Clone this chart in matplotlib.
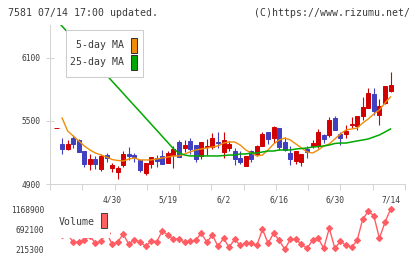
import matplotlib
matplotlib.use('Agg')
import matplotlib.pyplot as plt
from matplotlib.patches import Rectangle
import numpy as np

# daily prices (61 trading days, last one = 7/14)
opens = [5430, 5281, 5233, 5338, 5319, 5214, 5090, 5138, 5043, 5176,
         5052, 5014, 5081, 5186, 5176, 5129, 5005, 5090, 5148, 5167,
         5100, 5176, 5300, 5243, 5310, 5271, 5167, 5252, 5252, 5300,
         5205, 5243, 5214, 5148, 5071, 5214, 5186, 5262, 5395, 5338,
         5433, 5300, 5195, 5119, 5110, 5233, 5262, 5262, 5367, 5367,
         5529, 5376, 5376, 5462, 5452, 5548, 5624, 5757, 5557, 5671, 5786]
highs = [5430, 5338, 5319, 5367, 5329, 5214, 5186, 5167, 5186, 5195,
         5100, 5071, 5214, 5252, 5195, 5129, 5100, 5157, 5176, 5224,
         5214, 5262, 5319, 5319, 5338, 5271, 5300, 5329, 5386, 5395,
         5395, 5310, 5243, 5214, 5167, 5224, 5271, 5395, 5395, 5452,
         5433, 5348, 5262, 5214, 5186, 5262, 5319, 5424, 5376, 5538,
         5548, 5395, 5462, 5538, 5548, 5729, 5814, 5814, 5710, 5833, 5967]
lows = [5430, 5186, 5224, 5243, 5205, 5062, 5033, 5043, 5024, 5110,
        5014, 4948, 5062, 5129, 5110, 5014, 4986, 5052, 5062, 5090,
        5100, 5052, 5157, 5205, 5186, 5110, 5138, 5176, 5233, 5243,
        5148, 5214, 5081, 5090, 5071, 5110, 5167, 5262, 5281, 5290,
        5224, 5214, 5081, 5090, 5071, 5148, 5243, 5243, 5290, 5348,
        5414, 5271, 5338, 5433, 5414, 5510, 5624, 5557, 5462, 5662, 5776]
closes = [5430, 5233, 5281, 5281, 5205, 5090, 5138, 5090, 5167, 5148,
          5081, 5052, 5186, 5167, 5157, 5033, 5100, 5157, 5119, 5090,
          5195, 5233, 5157, 5271, 5233, 5138, 5300, 5262, 5338, 5290,
          5319, 5281, 5138, 5110, 5167, 5138, 5262, 5376, 5329, 5443,
          5252, 5224, 5138, 5214, 5186, 5205, 5290, 5395, 5329, 5510,
          5414, 5338, 5405, 5471, 5548, 5633, 5767, 5595, 5643, 5833, 5843]

ma5 = [None, 5529, 5405, 5357, 5310, 5262, 5224, 5195, 5176, 5157,
       5133, 5124, 5119, 5138, 5148, 5129, 5129, 5129, 5138, 5148,
       5157, 5167, 5167, 5186, 5205, 5224, 5233, 5243, 5252, 5262,
       5290, 5300, 5300, 5271, 5224, 5195, 5167, 5176, 5224, 5281,
       5319, 5338, 5319, 5281, 5243, 5205, 5195, 5224, 5262, 5281,
       5329, 5376, 5414, 5424, 5433, 5481, 5519, 5567, 5605, 5671, 5729]
ma25 = [6462, 6403, 6345, 6287, 6228, 6170, 6111, 6053, 5995, 5936,
        5878, 5820, 5762, 5703, 5645, 5587, 5529, 5470, 5412, 5353,
        5295, 5236, 5195, 5176, 5167, 5167, 5167, 5167, 5167, 5167,
        5171, 5176, 5176, 5186, 5186, 5195, 5195, 5205, 5214, 5214,
        5224, 5224, 5224, 5233, 5238, 5243, 5252, 5257, 5262, 5271,
        5286, 5290, 5290, 5300, 5310, 5319, 5329, 5348, 5367, 5395, 5424]

volume = [620000, 560000, 575000, 382000, 382000, 444000, 532000, 358000, 413000, 604000,
          334500, 396500, 573000, 334500, 444000, 396500, 287000, 413000, 396500, 651600,
          556200, 460900, 460900, 382000, 413000, 429900, 603900, 382000, 556200, 287000,
          477500, 263000, 453700, 310700, 358300, 358300, 310700, 692100, 358300, 596700,
          429900, 215300, 453700, 453700, 334500, 239100, 429900, 477500, 239100, 715900,
          239100, 406000, 310700, 263000, 429900, 930500, 1121200, 1016300, 477500, 859000, 1168900]

date_pos = [10, 20, 30, 40, 50, 60]
date_labels = ['4/30', '5/19', '6/2', '6/16', '6/30', '7/14']
price_ticks = [4900, 5500, 6100]

RED = '#d20000'
BLUE = '#4040c0'
ORANGE = '#f08c0a'
GREEN = '#00a800'
VCOL = '#ff5c64'
GRAY = '#d4d4d4'
TXT = '#3a3a3a'
MONO = 'DejaVu Sans Mono'

W, H = 420, 259
fig = plt.figure(figsize=(4.2, 2.59), dpi=100)


def box(l, t, r, b):
    return [l / W, 1 - b / H, (r - l) / W, (b - t) / H]


ax = fig.add_axes(box(50, 25, 405, 184))
axv = fig.add_axes(box(50, 209.3, 405, 249.3))

x = np.arange(len(closes))
o = np.array(opens, float)
c = np.array(closes, float)
cols = np.where(c >= o, RED, BLUE)

ax.vlines(x, lows, highs, colors=cols, lw=0.8)
ax.bar(x, np.abs(c - o), 0.72, np.minimum(o, c), color=cols, edgecolor=cols, lw=0.7)
ax.plot(x, np.array(ma5, float), color=ORANGE, lw=1.0)
ax.plot(x, np.array(ma25, float), color=GREEN, lw=1.1)

xlo, xhi = -1.168, 62.6
ax.set_xlim(xlo, xhi)
ax.set_ylim(4900, 6414)
ax.set_xticks(np.linspace(xlo, xhi, 12), minor=True)
ax.set_xticks(date_pos, date_labels)
ax.set_yticks(price_ticks)
ax.tick_params(axis='x', which='minor', length=4.3, width=0.75, color=GRAY, direction='out')
ax.tick_params(axis='x', which='major', length=0, pad=8, labelsize=5.7, labelcolor=TXT)
ax.tick_params(axis='y', direction='inout', length=5.8, width=0.75, color=GRAY, pad=4,
               labelsize=5.7, labelcolor=TXT)
for lab in ax.get_xticklabels() + ax.get_yticklabels():
    lab.set_family(MONO)
for s in ['top', 'right']:
    ax.spines[s].set_visible(False)
for s in ['left', 'bottom']:
    ax.spines[s].set_color(GRAY)
    ax.spines[s].set_linewidth(0.75)

# volume panel
axv.plot(x, volume, color=VCOL, lw=1.0, marker='D', ms=3.1, mew=0.8, clip_on=False)
axv.set_xlim(xlo, xhi)
vmin, vmax = min(volume), max(volume)
axv.set_ylim(vmin, vmax)
axv.set_yticks([vmin, (vmin + vmax) / 2, vmax])
axv.set_yticklabels(['%d' % v for v in [vmin, (vmin + vmax) / 2, vmax]])
axv.set_xticks([])
axv.tick_params(axis='y', length=0, pad=4.3, labelsize=5.7, labelcolor=TXT)
for lab in axv.get_yticklabels():
    lab.set_family(MONO)
for s in axv.spines.values():
    s.set_visible(False)


def rect(l, t, r, b, **kw):
    fig.add_artist(Rectangle((l / W, 1 - b / H), (r - l) / W, (b - t) / H,
                             transform=fig.transFigure, **kw))


# price legend
rect(65.7, 30, 143, 77, facecolor='white', edgecolor='#cccccc', lw=0.75, zorder=5)
fig.text(124.5 / W, 1 - 45.5 / H, '5-day MA', ha='right', va='center', fontsize=7.1,
         family=MONO, color=TXT, zorder=6)
fig.text(124.5 / W, 1 - 62 / H, '25-day MA', ha='right', va='center', fontsize=7.1,
         family=MONO, color=TXT, zorder=6)
rect(131, 37.5, 137, 52.5, facecolor=ORANGE, edgecolor='#333333', lw=0.75, zorder=6)
rect(131, 54.5, 137, 69.5, facecolor=GREEN, edgecolor='#333333', lw=0.75, zorder=6)

# volume legend
rect(52, 203, 110, 238.3, facecolor='white', edgecolor='none', zorder=5)
fig.text(59 / W, 1 - 222 / H, 'Volume', ha='left', va='center', fontsize=7.1,
         family=MONO, color=TXT, zorder=6)
rect(101, 213, 107, 228, facecolor='#ff6060', edgecolor='#444444', lw=0.75, zorder=6)

# header
fig.text(8.3 / W, 1 - 12.5 / H, '7581 07/14 17:00 updated.', ha='left', va='center',
         fontsize=7.1, family=MONO, color=TXT)
fig.text(409.5 / W, 1 - 12.5 / H, '(C)https://www.rizumu.net/', ha='right', va='center',
         fontsize=7.1, family=MONO, color=TXT)

fig.savefig('out.png', dpi=100)
